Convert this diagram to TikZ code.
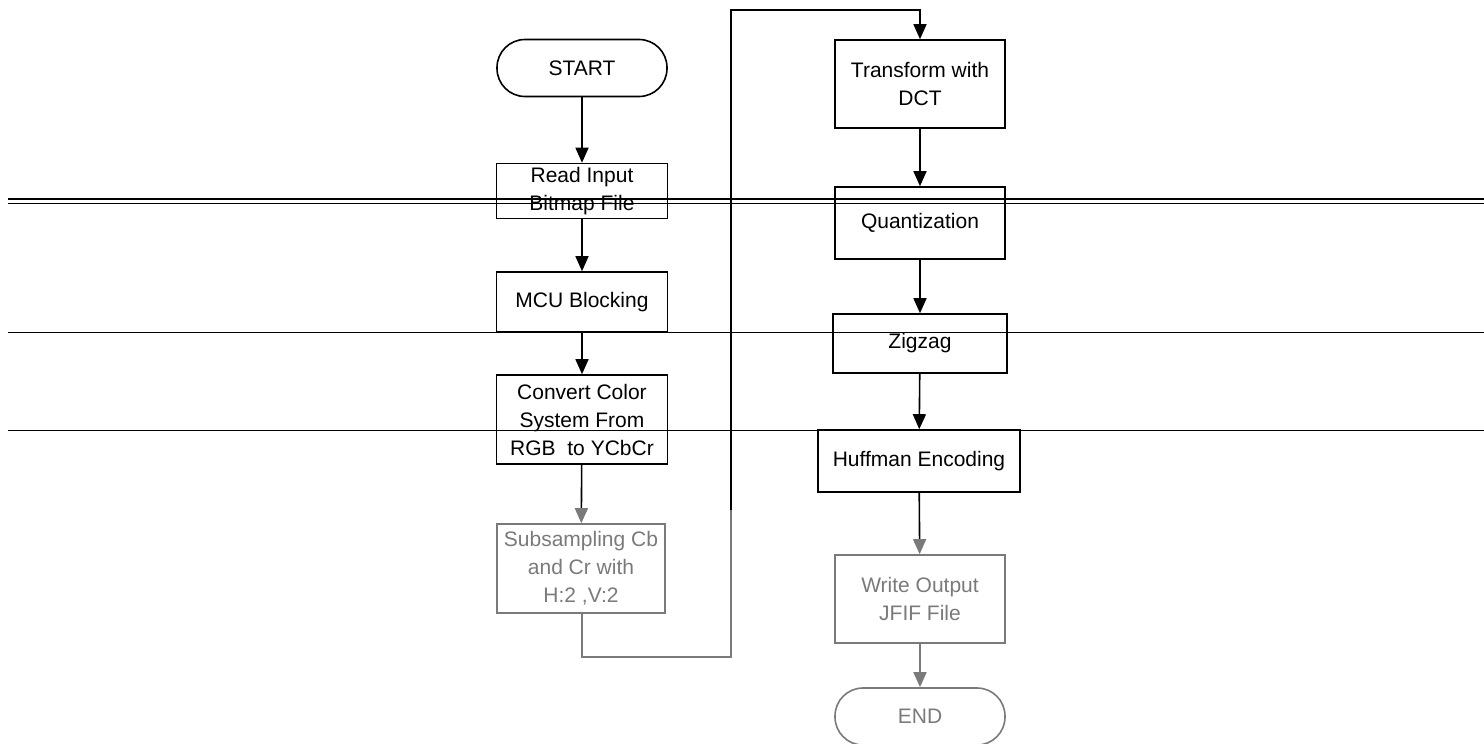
\documentclass[tikz,border=0pt]{standalone}
\usepackage{fontspec}
\setmainfont{Liberation Sans}
\usetikzlibrary{arrows.meta}
\definecolor{fadegray}{HTML}{7A7A7A}
\begin{document}
\begin{tikzpicture}[x=1pt,y=-1pt,
  box/.style={draw, line width=1.6pt, inner sep=0pt, align=center,
    font=\fontsize{21}{28}\selectfont},
  term/.style={box, rounded corners=28pt},
  faded/.style={draw=fadegray, text=fadegray},
  flow/.style={line width=1.6pt, -{Triangle[width=13pt,length=15pt]}},
  fadeflow/.style={line width=1.6pt, -{Triangle[width=13pt,length=15pt,fill=fadegray,color=fadegray]}},
  scanline/.style={line width=1pt}
]
\useasboundingbox (0,0) rectangle (1484,744);

% scan artefact lines
\draw[scanline, line width=1.8pt] (8,199) -- (1484,199);
\draw[scanline] (8,203) -- (1484,203);
\draw[scanline] (8,332) -- (1484,332);
\draw[scanline] (8,430) -- (1484,430);

% left column
\node[term, minimum width=170pt, minimum height=57pt] (start) at (582,68) {START};
\node[box, minimum width=171pt, minimum height=55pt] (read) at (582,191) {Read Input\\Bitmap File};
\node[box, minimum width=171pt, minimum height=60pt] (mcu) at (582,302) {MCU Blocking};
\node[box, minimum width=171pt, minimum height=89pt] (conv) at (582,419.5) {Convert Color\\System From\\RGB\ \ to YCbCr};
\node[box, faded, minimum width=168pt, minimum height=89pt] (sub) at (581,568.5) {Subsampling Cb\\and Cr with\\H:2 ,V:2};

% right column
\node[box, minimum width=170pt, minimum height=88pt] (dct) at (920,84) {Transform with\\DCT};
\node[box, minimum width=170pt, minimum height=72pt] (quant) at (920,223) {Quantization};
\node[box, minimum width=174pt, minimum height=59pt] (zig) at (920,343.5) {Zigzag};
\node[box, minimum width=202pt, minimum height=62pt] (huff) at (919,461) {Huffman Encoding};
\node[box, faded, minimum width=170pt, minimum height=88pt] (write) at (920,599) {Write Output\\JFIF File};
\node[term, faded, minimum width=170pt, minimum height=57pt] (end) at (920,716.5) {END};

% connectors
\draw[flow] (start) -- (read);
\draw[flow] (read) -- (mcu);
\draw[flow] (mcu) -- (conv);
\draw[fadeflow] (conv) -- (sub);

\coordinate (lb) at (731,657);
\coordinate (lm) at (731,510);
\coordinate (lt) at (731,10);
\draw[line width=1.3pt, draw=fadegray] (sub.south -| 582,0) |- (lb) -- (lm);
\draw[flow] (lm) -- (lt) -| (dct.north);

\draw[flow] (dct) -- (quant);
\draw[flow] (quant) -- (zig);
\draw[flow] (zig) -- (huff);
\draw[fadeflow] (huff) -- (write);
\draw[fadeflow, draw=fadegray] (write) -- (end);
\end{tikzpicture}
\end{document}
